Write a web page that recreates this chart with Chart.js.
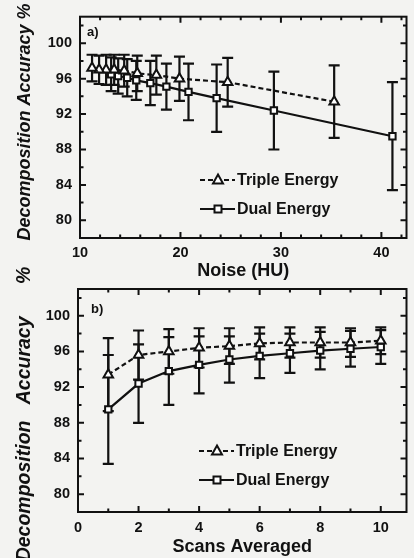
<!DOCTYPE html>
<html>
<head>
<meta charset="utf-8">
<script src="https://cdn.jsdelivr.net/npm/chart.js@4.4.1/dist/chart.umd.min.js"></script>
<style>
    html, body { margin: 0; padding: 0; background: #f3f3f1; }
    #wrap { position: relative; width: 414px; height: 558px; overflow: hidden; }
    .panel { position: absolute; left: 0; width: 414px; }
    #panelA { top: 0; height: 280px; }
    #panelB { top: 262px; height: 296px; }
</style>
</head>
<body>
<div id="wrap">
    <div class="panel" id="panelA"><canvas id="noiseChart" width="414" height="280"></canvas></div>
    <div class="panel" id="panelB"><canvas id="scansChart" width="414" height="296"></canvas></div>
</div>
<script>
// Datos: precisión de descomposición vs ruido y vs número de escaneos promediados
const scansAveraged = [1, 2, 3, 4, 5, 6, 7, 8, 9, 10];
const tripleNoise = [35.3, 24.7, 19.9, 17.6, 15.7, 14.4, 13.4, 12.6, 11.9, 11.2];
const dualNoise = [41.1, 29.3, 23.6, 20.8, 18.6, 17.0, 15.6, 14.7, 13.8, 13.1];
const tripleAccuracy = [93.4, 95.6, 96.0, 96.4, 96.6, 96.9, 97.0, 97.0, 97.0, 97.2];
const tripleError = [4.1, 2.75, 2.5, 2.2, 2.0, 1.8, 1.7, 1.7, 1.6, 1.5];
const dualAccuracy = [89.5, 92.4, 93.8, 94.5, 95.1, 95.5, 95.8, 96.1, 96.3, 96.5];
const dualError = [6.1, 4.4, 3.8, 3.2, 2.6, 2.5, 2.2, 2.1, 2.0, 1.9];

const seriesNames = ['Triple Energy', 'Dual Energy'];
const yTickLabels = [80, 84, 88, 92, 96, 100];

const FONT = 'Liberation Sans, Arial, Helvetica, sans-serif';
const INK = '#111111';

function toPoints(xs, ys) {
    return xs.map((x, i) => ({ x: x, y: ys[i] }));
}

// Marcadores: triángulo y cuadrado abiertos
function drawMarker(ctx, style, x, y) {
    ctx.save();
    ctx.setLineDash([]);
    ctx.fillStyle = '#ffffff';
    ctx.strokeStyle = INK;
    ctx.lineWidth = 2;
    ctx.beginPath();
    if (style === 'triangle') {
        ctx.moveTo(x, y - 5.5);
        ctx.lineTo(x + 5, y + 3.5);
        ctx.lineTo(x - 5, y + 3.5);
        ctx.closePath();
    } else {
        ctx.rect(x - 3.5, y - 3.5, 7, 7);
    }
    ctx.fill();
    ctx.stroke();
    ctx.restore();
}

// Plugin: barras de error, marco con ticks hacia adentro, leyenda, título vertical y etiqueta del panel
const decorPlugin = {
    id: 'decor',
    beforeDatasetsDraw(chart) {
        const ctx = chart.ctx;
        const xs = chart.scales.x, ys = chart.scales.y;
        ctx.save();
        ctx.strokeStyle = INK;
        ctx.lineWidth = 2.2;
        chart.data.datasets.forEach(ds => {
            ds.data.forEach((p, i) => {
                const err = ds.errors[i];
                const px = xs.getPixelForValue(p.x);
                const top = ys.getPixelForValue(p.y + err);
                const bot = ys.getPixelForValue(p.y - err);
                ctx.beginPath();
                ctx.moveTo(px, top); ctx.lineTo(px, bot);
                ctx.moveTo(px - 5.5, top); ctx.lineTo(px + 5.5, top);
                ctx.moveTo(px - 5.5, bot); ctx.lineTo(px + 5.5, bot);
                ctx.stroke();
            });
        });
        ctx.restore();
    },
    afterDraw(chart, args, opts) {
        const ctx = chart.ctx;
        const a = chart.chartArea;
        const xs = chart.scales.x, ys = chart.scales.y;
        ctx.save();
        ctx.strokeStyle = INK;
        ctx.lineWidth = 2;
        ctx.strokeRect(a.left, a.top, a.right - a.left, a.bottom - a.top);

        // ticks en los cuatro lados
        ctx.beginPath();
        xs.ticks.forEach(t => {
            const px = xs.getPixelForValue(t.value);
            const len = (t.value % opts.xMajor === 0) ? 6 : 3.5;
            ctx.moveTo(px, a.bottom); ctx.lineTo(px, a.bottom - len);
            ctx.moveTo(px, a.top); ctx.lineTo(px, a.top + len);
        });
        ys.ticks.forEach(t => {
            const py = ys.getPixelForValue(t.value);
            const len = (t.value % 4 === 0) ? 6 : 3.5;
            ctx.moveTo(a.left, py); ctx.lineTo(a.left + len, py);
            ctx.moveTo(a.right, py); ctx.lineTo(a.right - len, py);
        });
        ctx.stroke();

        // leyenda
        ctx.font = 'bold 16px ' + FONT;
        ctx.fillStyle = INK;
        ctx.textBaseline = 'middle';
        chart.data.datasets.forEach((ds, i) => {
            const y = opts.legendY[i];
            const x0 = opts.legendX;
            ctx.beginPath();
            ctx.setLineDash(ds.borderDash || []);
            ctx.moveTo(x0, y); ctx.lineTo(x0 + 35, y);
            ctx.stroke();
            ctx.setLineDash([]);
            drawMarker(ctx, ds.pointStyle, x0 + 18, y);
            ctx.fillText(ds.label, x0 + 37, y + 1);
        });

        // etiqueta del panel
        ctx.font = 'bold 13px ' + FONT;
        ctx.fillText(opts.label, opts.labelX, opts.labelY);

        // título del eje y (girado)
        ctx.save();
        ctx.translate(opts.yTitleX, opts.yTitleY);
        ctx.rotate(-Math.PI / 2);
        ctx.textAlign = 'center';
        ctx.font = 'italic bold ' + opts.yTitleSize + 'px ' + FONT;
        ctx.fillText(opts.yTitle, 0, 0);
        ctx.restore();

        ctx.restore();
    }
};

function makeDatasets(tripleX, dualX) {
    return [
        {
            label: seriesNames[0],
            data: toPoints(tripleX, tripleAccuracy),
            errors: tripleError,
            showLine: true,
            borderColor: INK,
            borderWidth: 2.2,
            borderDash: [5, 3],
            tension: 0,
            pointStyle: 'triangle',
            pointRadius: 5.5,
            pointBorderWidth: 2,
            pointBorderColor: INK,
            pointBackgroundColor: '#ffffff'
        },
        {
            label: seriesNames[1],
            data: toPoints(dualX, dualAccuracy),
            errors: dualError,
            showLine: true,
            borderColor: INK,
            borderWidth: 2.2,
            tension: 0,
            pointStyle: 'rect',
            pointRadius: 4.5,
            pointBorderWidth: 2,
            pointBorderColor: INK,
            pointBackgroundColor: '#ffffff'
        }
    ];
}

function makeOptions(cfg) {
    return {
        responsive: false,
        animation: false,
        layout: { padding: { top: cfg.padTop, right: 5, left: 0, bottom: 0 } },
        plugins: {
            legend: { display: false },
            tooltip: { enabled: false },
            decor: cfg.decor
        },
        scales: {
            x: {
                type: 'linear',
                min: cfg.xMin,
                max: cfg.xMax,
                grid: { display: false, drawTicks: false, tickLength: 0 },
                border: { display: false },
                afterFit: s => { s.height = cfg.xHeight; },
                ticks: {
                    stepSize: cfg.xStep,
                    includeBounds: false,
                    autoSkip: false,
                    maxRotation: 0,
                    padding: cfg.xTickPad,
                    color: INK,
                    font: { family: FONT, weight: 'bold', size: 14.5 },
                    callback: v => (v % cfg.xMajor === 0 ? v : '')
                },
                title: {
                    display: true,
                    text: cfg.xTitle,
                    color: INK,
                    padding: { top: 0, bottom: cfg.xTitlePad },
                    font: { family: FONT, weight: 'bold', size: 18, lineHeight: 1 }
                }
            },
            y: {
                min: 78,
                max: 103,
                grid: { display: false, drawTicks: false, tickLength: 0 },
                border: { display: false },
                afterFit: s => { s.width = cfg.yWidth; },
                ticks: {
                    stepSize: 2,
                    includeBounds: false,
                    autoSkip: false,
                    padding: 8,
                    color: INK,
                    font: { family: FONT, weight: 'bold', size: 14.5 },
                    callback: v => (yTickLabels.includes(v) ? v : '')
                }
            }
        }
    };
}

// Panel a) precisión vs ruido
new Chart(document.getElementById('noiseChart'), {
    type: 'scatter',
    data: { datasets: makeDatasets(tripleNoise, dualNoise) },
    options: makeOptions({
        padTop: 14, xMin: 10, xMax: 42.5, xStep: 2, xMajor: 10,
        xHeight: 42, xTickPad: 6, xTitlePad: 0, xTitle: 'Noise (HU)',
        yWidth: 80,
        decor: {
            xMajor: 10, legendX: 200, legendY: [180, 209], label: 'a)', labelX: 87, labelY: 32,
            yTitle: 'Decomposition Accuracy %', yTitleSize: 18, yTitleX: 25, yTitleY: 122
        }
    }),
    plugins: [decorPlugin]
});

// Panel b) precisión vs escaneos promediados
new Chart(document.getElementById('scansChart'), {
    type: 'scatter',
    data: { datasets: makeDatasets(scansAveraged, scansAveraged) },
    options: makeOptions({
        padTop: 27, xMin: 0, xMax: 10.85, xStep: 1, xMajor: 2,
        xHeight: 46, xTickPad: 7, xTitlePad: 2, xTitle: 'Scans Averaged',
        yWidth: 78,
        decor: {
            xMajor: 2, legendX: 199, legendY: [189, 218], label: 'b)', labelX: 91, labelY: 47,
            yTitle: 'Decomposition   Accuracy      %', yTitleSize: 19.5, yTitleX: 25, yTitleY: 152
        }
    }),
    plugins: [decorPlugin]
});
</script>
</body>
</html>
